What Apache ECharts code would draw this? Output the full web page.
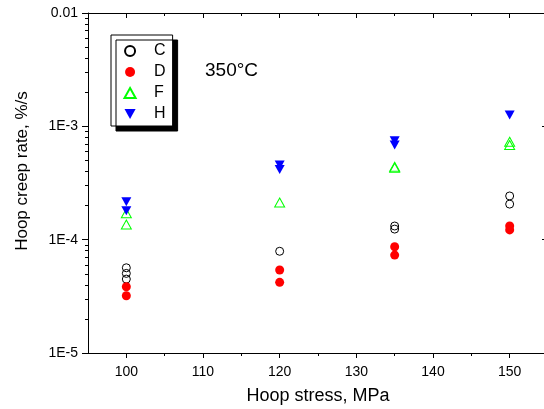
<!DOCTYPE html>
<html>
<head>
<meta charset="utf-8">
<script src="https://cdn.jsdelivr.net/npm/echarts@6/dist/echarts.min.js"></script>
<style>html,body{margin:0;padding:0;background:#fff}#c{width:544px;height:409px}</style>
</head>
<body>
<div id="c"></div>
<script>
// ---- data ----
const cStress = [100, 100, 100, 120, 135, 135, 150, 150];
const cRate   = [5.65e-5, 5.04e-5, 4.49e-5, 7.9e-5, 1.32e-4, 1.24e-4, 2.43e-4, 2.06e-4];
const dStress = [100, 100, 120, 120, 135, 135, 150, 150];
const dRate   = [3.84e-5, 3.2e-5, 5.4e-5, 4.2e-5, 8.66e-5, 7.31e-5, 1.32e-4, 1.22e-4];
const fStress = [100, 100, 120, 135, 135, 150, 150];
const fRate   = [1.71e-4, 1.36e-4, 2.13e-4, 4.4e-4, 4.3e-4, 7.3e-4, 6.84e-4];
const hStress = [100, 100, 120, 120, 135, 135, 150];
const hRate   = [2.16e-4, 1.8e-4, 4.55e-4, 4.17e-4, 7.46e-4, 6.84e-4, 1.26e-3];

const xMajorTicks = [100, 110, 120, 130, 140, 150];
const xMinorTicks = [105, 115, 125, 135, 145];
const yMajorTicks = [1e-5, 1e-4, 1e-3, 1e-2];
const yTickLabels = ['1E-5', '1E-4', '1E-3', '0.01'];
const yMinorTicks = [];
[1e-5, 1e-4, 1e-3].forEach(function (d) { for (let k = 2; k <= 9; k++) yMinorTicks.push(+(d * k).toPrecision(3)); });

const seriesNames = ['C', 'D', 'F', 'H'];
const tempLabel = '350°C';
const xTitle = 'Hoop stress, MPa';
const yTitle = 'Hoop creep rate, %/s';

function zip(a, b) { return a.map(function (v, i) { return [v, b[i]]; }); }

const FONT = 'Liberation Sans, Arial, sans-serif';
const chart = echarts.init(document.getElementById('c'), null, { renderer: 'canvas' });

const xMin = 95, xMax = 155, yMin = 1e-5, yMax = 1e-2;
const TRI_UP = 'path://M5,0L10,9L0,9Z';
const TRI_DOWN = 'path://M0,0L10,0L5,9Z';

const solidLine = { show: true, onZero: false, lineStyle: { color: '#000', width: 1 } };
const noLine = { show: false, onZero: false };
function ticks(vals, len, inside) {
  return { show: true, inside: inside, length: len, customValues: vals, lineStyle: { color: '#000', width: 1 } };
}
function xAx(o) {
  return Object.assign({ type: 'value', min: xMin, max: xMax, splitLine: { show: false }, axisLine: noLine,
    axisTick: { show: false }, axisLabel: { show: false } }, o);
}
function yAx(o) {
  return Object.assign({ type: 'log', logBase: 10, min: yMin, max: yMax, splitLine: { show: false }, axisLine: noLine,
    axisTick: { show: false }, axisLabel: { show: false } }, o);
}

const option = {
  backgroundColor: '#fff',
  animation: false,
  textStyle: { fontFamily: FONT },
  title: {
    text: tempLabel, left: 205, top: 61, padding: 0,
    textStyle: { fontFamily: FONT, fontSize: 19, fontWeight: 'normal', color: '#000' }
  },
  grid: { left: 88, right: -4, top: 13, bottom: 56, containLabel: false, outerBoundsMode: 'none' },
  legend: {
    data: seriesNames,
    orient: 'vertical', left: 111, top: 35,
    padding: [8, 7, 4, 12.5], itemWidth: 38, itemHeight: 10, itemGap: 5,
    textStyle: { fontFamily: FONT, fontSize: 16, color: '#000' },
    backgroundColor: '#fff', borderColor: '#000', borderWidth: 1, borderRadius: 0,
    shadowColor: '#000', shadowBlur: 0, shadowOffsetX: 5, shadowOffsetY: 5,
    selectedMode: false
  },
  xAxis: [
    xAx({
      position: 'bottom', axisLine: solidLine, axisTick: ticks(xMajorTicks, 5, false),
      axisLabel: { show: true, customValues: xMajorTicks, margin: 12, fontSize: 14, color: '#000', fontFamily: FONT },
      name: xTitle, nameLocation: 'middle', nameGap: 34,
      nameTextStyle: { fontFamily: FONT, fontSize: 18, color: '#000' }
    }),
    xAx({ position: 'bottom', axisTick: ticks(xMinorTicks, 3, false) }),
    xAx({ position: 'top', axisLine: solidLine, axisTick: ticks(xMajorTicks, 5, true) }),
    xAx({ position: 'top', axisTick: ticks(xMinorTicks, 3, true) })
  ],
  yAxis: [
    yAx({
      position: 'left', axisLine: solidLine, axisTick: ticks(yMajorTicks, 6, false),
      axisLabel: { show: true, customValues: yMajorTicks, margin: 10, fontSize: 14, color: '#000', fontFamily: FONT,
        formatter: function (v) { return yTickLabels[Math.round(Math.log10(v)) + 5]; } },
      name: yTitle, nameLocation: 'middle', nameGap: 57, nameRotate: 90,
      nameTextStyle: { fontFamily: FONT, fontSize: 17, color: '#000', padding: [0, 0, 0, 24] }
    }),
    yAx({ position: 'left', axisTick: ticks(yMinorTicks, 3, false) }),
    yAx({ position: 'right', axisLine: solidLine, axisTick: ticks(yMajorTicks, 6, true) })
  ],
  series: [
    { name: 'C', type: 'scatter', xAxisIndex: 0, yAxisIndex: 0, data: zip(cStress, cRate),
      symbol: 'circle', symbolSize: 8,
      itemStyle: { color: 'rgba(255,255,255,0)', borderColor: '#000', borderWidth: 1, opacity: 1 } },
    { name: 'D', type: 'scatter', xAxisIndex: 0, yAxisIndex: 0, data: zip(dStress, dRate),
      symbol: 'circle', symbolSize: 9,
      itemStyle: { color: '#ff0000', opacity: 1 } },
    { name: 'F', type: 'scatter', xAxisIndex: 0, yAxisIndex: 0, data: zip(fStress, fRate),
      symbol: TRI_UP, symbolSize: [10, 9],
      itemStyle: { color: 'rgba(255,255,255,0)', borderColor: '#00ff00', borderWidth: 1, opacity: 1 } },
    { name: 'H', type: 'scatter', xAxisIndex: 0, yAxisIndex: 0, data: zip(hStress, hRate),
      symbol: TRI_DOWN, symbolSize: [10, 9],
      itemStyle: { color: '#0000ff', opacity: 1 } }
  ]
};
chart.setOption(option);
</script>
</body>
</html>
